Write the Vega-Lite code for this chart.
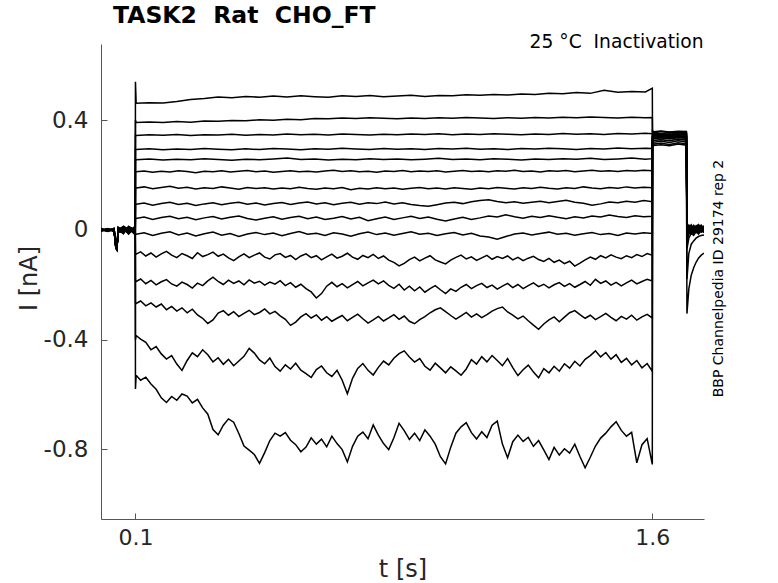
{
"$schema":"https://vega.github.io/schema/vega-lite/v6.json",
"width":603,"height":475,
"autosize":"none",
"padding":{"left":101,"top":44,"right":74,"bottom":64},
"background":"white",
"title":{"text":"TASK2\u00a0 Rat\u00a0 CHO_FT","anchor":"start","frame":"group","dx":12,"dy":31,"offset":17,"baseline":"alphabetic","font":"DejaVu Sans","fontSize":23.5,"fontWeight":"bold","color":"black"},
"config":{"view":{"stroke":null},"axis":{"grid":false,"labelFont":"DejaVu Sans","titleFont":"DejaVu Sans","labelColor":"#262626","titleColor":"#262626","titleFontWeight":"normal","domainColor":"#555555","tickColor":"#555555","domainWidth":1,"tickWidth":1}},
"layer":[
{"data":{"values":[
{"sweep":1,"t":0,"I":0.004},{"sweep":1,"t":0.02,"I":-0.003},{"sweep":1,"t":0.038,"I":0.006},{"sweep":1,"t":0.043,"I":-0.062},{"sweep":1,"t":0.046,"I":-0.07},{"sweep":1,"t":0.05,"I":0.002},{"sweep":1,"t":0.065,"I":0.012},{"sweep":1,"t":0.08,"I":-0.008},{"sweep":1,"t":0.0995,"I":0.01},
{"sweep":1,"t":0.1,"I":0.54},{"sweep":1,"t":0.102,"I":0.462},{"sweep":1,"t":0.14,"I":0.464},{"sweep":1,"t":0.18,"I":0.463},{"sweep":1,"t":0.22,"I":0.468},{"sweep":1,"t":0.26,"I":0.476},{"sweep":1,"t":0.3,"I":0.479},{"sweep":1,"t":0.34,"I":0.485},{"sweep":1,"t":0.38,"I":0.482},{"sweep":1,"t":0.42,"I":0.487},{"sweep":1,"t":0.46,"I":0.484},{"sweep":1,"t":0.5,"I":0.488},{"sweep":1,"t":0.54,"I":0.485},{"sweep":1,"t":0.58,"I":0.489},{"sweep":1,"t":0.62,"I":0.486},{"sweep":1,"t":0.66,"I":0.484},{"sweep":1,"t":0.7,"I":0.489},{"sweep":1,"t":0.74,"I":0.487},{"sweep":1,"t":0.78,"I":0.49},{"sweep":1,"t":0.82,"I":0.486},{"sweep":1,"t":0.86,"I":0.488},{"sweep":1,"t":0.9,"I":0.491},{"sweep":1,"t":0.94,"I":0.487},{"sweep":1,"t":0.98,"I":0.49},{"sweep":1,"t":1.02,"I":0.489},{"sweep":1,"t":1.06,"I":0.493},{"sweep":1,"t":1.1,"I":0.491},{"sweep":1,"t":1.14,"I":0.494},{"sweep":1,"t":1.18,"I":0.492},{"sweep":1,"t":1.22,"I":0.496},{"sweep":1,"t":1.26,"I":0.494},{"sweep":1,"t":1.3,"I":0.498},{"sweep":1,"t":1.34,"I":0.497},{"sweep":1,"t":1.38,"I":0.501},{"sweep":1,"t":1.42,"I":0.498},{"sweep":1,"t":1.46,"I":0.509},{"sweep":1,"t":1.5,"I":0.502},{"sweep":1,"t":1.54,"I":0.505},{"sweep":1,"t":1.58,"I":0.503},{"sweep":1,"t":1.6,"I":0.517},
{"sweep":1,"t":1.6005,"I":0.358},{"sweep":1,"t":1.604,"I":0.354},{"sweep":1,"t":1.625,"I":0.359},{"sweep":1,"t":1.65,"I":0.355},{"sweep":1,"t":1.675,"I":0.357},{"sweep":1,"t":1.699,"I":0.353},
{"sweep":1,"t":1.7005,"I":0.01},{"sweep":1,"t":1.706,"I":0.018},{"sweep":1,"t":1.713,"I":0.004},{"sweep":1,"t":1.72,"I":0.014},{"sweep":1,"t":1.727,"I":0.002},{"sweep":1,"t":1.734,"I":0.016},{"sweep":1,"t":1.742,"I":0.006},{"sweep":1,"t":1.75,"I":0.012},

{"sweep":2,"t":0,"I":-0.002},{"sweep":2,"t":0.02,"I":0.005},{"sweep":2,"t":0.038,"I":-0.004},{"sweep":2,"t":0.043,"I":-0.058},{"sweep":2,"t":0.046,"I":-0.066},{"sweep":2,"t":0.05,"I":-0.006},{"sweep":2,"t":0.065,"I":-0.011},{"sweep":2,"t":0.08,"I":0.009},{"sweep":2,"t":0.0995,"I":-0.014},
{"sweep":2,"t":0.1,"I":0.4},{"sweep":2,"t":0.102,"I":0.392},{"sweep":2,"t":0.14,"I":0.394},{"sweep":2,"t":0.18,"I":0.392},{"sweep":2,"t":0.22,"I":0.395},{"sweep":2,"t":0.26,"I":0.393},{"sweep":2,"t":0.3,"I":0.397},{"sweep":2,"t":0.34,"I":0.396},{"sweep":2,"t":0.38,"I":0.399},{"sweep":2,"t":0.42,"I":0.398},{"sweep":2,"t":0.46,"I":0.402},{"sweep":2,"t":0.5,"I":0.4},{"sweep":2,"t":0.54,"I":0.404},{"sweep":2,"t":0.58,"I":0.402},{"sweep":2,"t":0.62,"I":0.406},{"sweep":2,"t":0.66,"I":0.405},{"sweep":2,"t":0.7,"I":0.408},{"sweep":2,"t":0.74,"I":0.406},{"sweep":2,"t":0.78,"I":0.409},{"sweep":2,"t":0.82,"I":0.407},{"sweep":2,"t":0.86,"I":0.405},{"sweep":2,"t":0.9,"I":0.408},{"sweep":2,"t":0.94,"I":0.406},{"sweep":2,"t":0.98,"I":0.409},{"sweep":2,"t":1.02,"I":0.407},{"sweep":2,"t":1.06,"I":0.41},{"sweep":2,"t":1.1,"I":0.408},{"sweep":2,"t":1.14,"I":0.406},{"sweep":2,"t":1.18,"I":0.409},{"sweep":2,"t":1.22,"I":0.407},{"sweep":2,"t":1.26,"I":0.41},{"sweep":2,"t":1.3,"I":0.408},{"sweep":2,"t":1.34,"I":0.411},{"sweep":2,"t":1.38,"I":0.409},{"sweep":2,"t":1.42,"I":0.412},{"sweep":2,"t":1.46,"I":0.41},{"sweep":2,"t":1.5,"I":0.408},{"sweep":2,"t":1.54,"I":0.411},{"sweep":2,"t":1.58,"I":0.409},{"sweep":2,"t":1.6,"I":0.41},
{"sweep":2,"t":1.6005,"I":0.353},{"sweep":2,"t":1.604,"I":0.349},{"sweep":2,"t":1.625,"I":0.352},{"sweep":2,"t":1.65,"I":0.348},{"sweep":2,"t":1.675,"I":0.354},{"sweep":2,"t":1.699,"I":0.35},
{"sweep":2,"t":1.7005,"I":0.006},{"sweep":2,"t":1.706,"I":-0.004},{"sweep":2,"t":1.713,"I":0.012},{"sweep":2,"t":1.72,"I":0},{"sweep":2,"t":1.727,"I":0.015},{"sweep":2,"t":1.734,"I":0.003},{"sweep":2,"t":1.742,"I":0.011},{"sweep":2,"t":1.75,"I":-0.002},

{"sweep":3,"t":0,"I":0.001},{"sweep":3,"t":0.02,"I":-0.005},{"sweep":3,"t":0.038,"I":0.003},{"sweep":3,"t":0.043,"I":-0.065},{"sweep":3,"t":0.046,"I":-0.072},{"sweep":3,"t":0.05,"I":0.008},{"sweep":3,"t":0.065,"I":0.004},{"sweep":3,"t":0.08,"I":-0.013},{"sweep":3,"t":0.0995,"I":0.006},
{"sweep":3,"t":0.1,"I":0.345},{"sweep":3,"t":0.102,"I":0.344},{"sweep":3,"t":0.14,"I":0.347},{"sweep":3,"t":0.18,"I":0.345},{"sweep":3,"t":0.22,"I":0.348},{"sweep":3,"t":0.26,"I":0.344},{"sweep":3,"t":0.3,"I":0.347},{"sweep":3,"t":0.34,"I":0.346},{"sweep":3,"t":0.38,"I":0.349},{"sweep":3,"t":0.42,"I":0.345},{"sweep":3,"t":0.46,"I":0.348},{"sweep":3,"t":0.5,"I":0.346},{"sweep":3,"t":0.54,"I":0.35},{"sweep":3,"t":0.58,"I":0.347},{"sweep":3,"t":0.62,"I":0.349},{"sweep":3,"t":0.66,"I":0.346},{"sweep":3,"t":0.7,"I":0.35},{"sweep":3,"t":0.74,"I":0.348},{"sweep":3,"t":0.78,"I":0.346},{"sweep":3,"t":0.82,"I":0.349},{"sweep":3,"t":0.86,"I":0.347},{"sweep":3,"t":0.9,"I":0.35},{"sweep":3,"t":0.94,"I":0.348},{"sweep":3,"t":0.98,"I":0.351},{"sweep":3,"t":1.02,"I":0.347},{"sweep":3,"t":1.06,"I":0.35},{"sweep":3,"t":1.1,"I":0.348},{"sweep":3,"t":1.14,"I":0.351},{"sweep":3,"t":1.18,"I":0.349},{"sweep":3,"t":1.22,"I":0.347},{"sweep":3,"t":1.26,"I":0.35},{"sweep":3,"t":1.3,"I":0.348},{"sweep":3,"t":1.34,"I":0.352},{"sweep":3,"t":1.38,"I":0.349},{"sweep":3,"t":1.42,"I":0.351},{"sweep":3,"t":1.46,"I":0.348},{"sweep":3,"t":1.5,"I":0.352},{"sweep":3,"t":1.54,"I":0.35},{"sweep":3,"t":1.58,"I":0.353},{"sweep":3,"t":1.6,"I":0.351},
{"sweep":3,"t":1.6005,"I":0.362},{"sweep":3,"t":1.604,"I":0.358},{"sweep":3,"t":1.625,"I":0.361},{"sweep":3,"t":1.65,"I":0.357},{"sweep":3,"t":1.675,"I":0.36},{"sweep":3,"t":1.699,"I":0.359},
{"sweep":3,"t":1.7005,"I":0.014},{"sweep":3,"t":1.706,"I":0.008},{"sweep":3,"t":1.713,"I":0.019},{"sweep":3,"t":1.72,"I":0.005},{"sweep":3,"t":1.727,"I":0.013},{"sweep":3,"t":1.734,"I":0.02},{"sweep":3,"t":1.742,"I":0.007},{"sweep":3,"t":1.75,"I":0.015},

{"sweep":4,"t":0,"I":-0.004},{"sweep":4,"t":0.02,"I":0.002},{"sweep":4,"t":0.038,"I":-0.006},{"sweep":4,"t":0.043,"I":-0.06},{"sweep":4,"t":0.046,"I":-0.068},{"sweep":4,"t":0.05,"I":-0.003},{"sweep":4,"t":0.065,"I":0.014},{"sweep":4,"t":0.08,"I":0.002},{"sweep":4,"t":0.0995,"I":-0.009},
{"sweep":4,"t":0.1,"I":0.294},{"sweep":4,"t":0.102,"I":0.293},{"sweep":4,"t":0.14,"I":0.296},{"sweep":4,"t":0.18,"I":0.292},{"sweep":4,"t":0.22,"I":0.295},{"sweep":4,"t":0.26,"I":0.293},{"sweep":4,"t":0.3,"I":0.297},{"sweep":4,"t":0.34,"I":0.294},{"sweep":4,"t":0.38,"I":0.292},{"sweep":4,"t":0.42,"I":0.296},{"sweep":4,"t":0.46,"I":0.293},{"sweep":4,"t":0.5,"I":0.297},{"sweep":4,"t":0.54,"I":0.295},{"sweep":4,"t":0.58,"I":0.292},{"sweep":4,"t":0.62,"I":0.296},{"sweep":4,"t":0.66,"I":0.294},{"sweep":4,"t":0.7,"I":0.298},{"sweep":4,"t":0.74,"I":0.295},{"sweep":4,"t":0.78,"I":0.293},{"sweep":4,"t":0.82,"I":0.297},{"sweep":4,"t":0.86,"I":0.294},{"sweep":4,"t":0.9,"I":0.296},{"sweep":4,"t":0.94,"I":0.293},{"sweep":4,"t":0.98,"I":0.297},{"sweep":4,"t":1.02,"I":0.295},{"sweep":4,"t":1.06,"I":0.298},{"sweep":4,"t":1.1,"I":0.294},{"sweep":4,"t":1.14,"I":0.296},{"sweep":4,"t":1.18,"I":0.293},{"sweep":4,"t":1.22,"I":0.297},{"sweep":4,"t":1.26,"I":0.295},{"sweep":4,"t":1.3,"I":0.298},{"sweep":4,"t":1.34,"I":0.296},{"sweep":4,"t":1.38,"I":0.293},{"sweep":4,"t":1.42,"I":0.297},{"sweep":4,"t":1.46,"I":0.295},{"sweep":4,"t":1.5,"I":0.299},{"sweep":4,"t":1.54,"I":0.296},{"sweep":4,"t":1.58,"I":0.298},{"sweep":4,"t":1.6,"I":0.297},
{"sweep":4,"t":1.6005,"I":0.347},{"sweep":4,"t":1.604,"I":0.343},{"sweep":4,"t":1.625,"I":0.346},{"sweep":4,"t":1.65,"I":0.342},{"sweep":4,"t":1.675,"I":0.348},{"sweep":4,"t":1.699,"I":0.344},
{"sweep":4,"t":1.7005,"I":0},{"sweep":4,"t":1.706,"I":0.01},{"sweep":4,"t":1.713,"I":-0.005},{"sweep":4,"t":1.72,"I":0.008},{"sweep":4,"t":1.727,"I":-0.002},{"sweep":4,"t":1.734,"I":0.012},{"sweep":4,"t":1.742,"I":0.001},{"sweep":4,"t":1.75,"I":0.009},

{"sweep":5,"t":0,"I":0.003},{"sweep":5,"t":0.02,"I":-0.001},{"sweep":5,"t":0.038,"I":0.005},{"sweep":5,"t":0.043,"I":-0.063},{"sweep":5,"t":0.046,"I":-0.071},{"sweep":5,"t":0.05,"I":0.005},{"sweep":5,"t":0.065,"I":-0.009},{"sweep":5,"t":0.08,"I":0.011},{"sweep":5,"t":0.0995,"I":0.003},
{"sweep":5,"t":0.1,"I":0.257},{"sweep":5,"t":0.102,"I":0.256},{"sweep":5,"t":0.14,"I":0.259},{"sweep":5,"t":0.18,"I":0.255},{"sweep":5,"t":0.22,"I":0.258},{"sweep":5,"t":0.26,"I":0.256},{"sweep":5,"t":0.3,"I":0.26},{"sweep":5,"t":0.34,"I":0.257},{"sweep":5,"t":0.38,"I":0.254},{"sweep":5,"t":0.42,"I":0.258},{"sweep":5,"t":0.46,"I":0.256},{"sweep":5,"t":0.5,"I":0.259},{"sweep":5,"t":0.54,"I":0.262},{"sweep":5,"t":0.58,"I":0.257},{"sweep":5,"t":0.62,"I":0.259},{"sweep":5,"t":0.66,"I":0.255},{"sweep":5,"t":0.7,"I":0.258},{"sweep":5,"t":0.74,"I":0.256},{"sweep":5,"t":0.78,"I":0.26},{"sweep":5,"t":0.82,"I":0.257},{"sweep":5,"t":0.86,"I":0.259},{"sweep":5,"t":0.9,"I":0.256},{"sweep":5,"t":0.94,"I":0.258},{"sweep":5,"t":0.98,"I":0.261},{"sweep":5,"t":1.02,"I":0.257},{"sweep":5,"t":1.06,"I":0.259},{"sweep":5,"t":1.1,"I":0.256},{"sweep":5,"t":1.14,"I":0.26},{"sweep":5,"t":1.18,"I":0.258},{"sweep":5,"t":1.22,"I":0.255},{"sweep":5,"t":1.26,"I":0.259},{"sweep":5,"t":1.3,"I":0.257},{"sweep":5,"t":1.34,"I":0.26},{"sweep":5,"t":1.38,"I":0.258},{"sweep":5,"t":1.42,"I":0.261},{"sweep":5,"t":1.46,"I":0.257},{"sweep":5,"t":1.5,"I":0.259},{"sweep":5,"t":1.54,"I":0.262},{"sweep":5,"t":1.58,"I":0.258},{"sweep":5,"t":1.6,"I":0.26},
{"sweep":5,"t":1.6005,"I":0.35},{"sweep":5,"t":1.604,"I":0.355},{"sweep":5,"t":1.625,"I":0.351},{"sweep":5,"t":1.65,"I":0.356},{"sweep":5,"t":1.675,"I":0.352},{"sweep":5,"t":1.699,"I":0.354},
{"sweep":5,"t":1.7005,"I":0.008},{"sweep":5,"t":1.706,"I":0.015},{"sweep":5,"t":1.713,"I":0.002},{"sweep":5,"t":1.72,"I":0.017},{"sweep":5,"t":1.727,"I":0.006},{"sweep":5,"t":1.734,"I":0.01},{"sweep":5,"t":1.742,"I":0.018},{"sweep":5,"t":1.75,"I":0.004},

{"sweep":6,"t":0,"I":-0.001},{"sweep":6,"t":0.02,"I":0.004},{"sweep":6,"t":0.038,"I":-0.002},{"sweep":6,"t":0.043,"I":-0.059},{"sweep":6,"t":0.046,"I":-0.067},{"sweep":6,"t":0.05,"I":-0.008},{"sweep":6,"t":0.065,"I":0.007},{"sweep":6,"t":0.08,"I":-0.015},{"sweep":6,"t":0.0995,"I":0.013},
{"sweep":6,"t":0.1,"I":0.213},{"sweep":6,"t":0.102,"I":0.212},{"sweep":6,"t":0.125,"I":0.215},{"sweep":6,"t":0.15,"I":0.21},{"sweep":6,"t":0.175,"I":0.214},{"sweep":6,"t":0.2,"I":0.211},{"sweep":6,"t":0.225,"I":0.216},{"sweep":6,"t":0.25,"I":0.213},{"sweep":6,"t":0.275,"I":0.209},{"sweep":6,"t":0.3,"I":0.214},{"sweep":6,"t":0.325,"I":0.212},{"sweep":6,"t":0.35,"I":0.216},{"sweep":6,"t":0.375,"I":0.211},{"sweep":6,"t":0.4,"I":0.214},{"sweep":6,"t":0.425,"I":0.217},{"sweep":6,"t":0.45,"I":0.212},{"sweep":6,"t":0.475,"I":0.215},{"sweep":6,"t":0.5,"I":0.21},{"sweep":6,"t":0.525,"I":0.213},{"sweep":6,"t":0.55,"I":0.216},{"sweep":6,"t":0.575,"I":0.212},{"sweep":6,"t":0.6,"I":0.214},{"sweep":6,"t":0.625,"I":0.211},{"sweep":6,"t":0.65,"I":0.215},{"sweep":6,"t":0.675,"I":0.218},{"sweep":6,"t":0.7,"I":0.213},{"sweep":6,"t":0.725,"I":0.216},{"sweep":6,"t":0.75,"I":0.212},{"sweep":6,"t":0.775,"I":0.214},{"sweep":6,"t":0.8,"I":0.21},{"sweep":6,"t":0.825,"I":0.215},{"sweep":6,"t":0.85,"I":0.213},{"sweep":6,"t":0.875,"I":0.217},{"sweep":6,"t":0.9,"I":0.212},{"sweep":6,"t":0.925,"I":0.215},{"sweep":6,"t":0.95,"I":0.213},{"sweep":6,"t":0.975,"I":0.216},{"sweep":6,"t":1.0,"I":0.211},{"sweep":6,"t":1.025,"I":0.214},{"sweep":6,"t":1.05,"I":0.217},{"sweep":6,"t":1.075,"I":0.213},{"sweep":6,"t":1.1,"I":0.215},{"sweep":6,"t":1.125,"I":0.212},{"sweep":6,"t":1.15,"I":0.216},{"sweep":6,"t":1.175,"I":0.214},{"sweep":6,"t":1.2,"I":0.218},{"sweep":6,"t":1.225,"I":0.213},{"sweep":6,"t":1.25,"I":0.215},{"sweep":6,"t":1.275,"I":0.211},{"sweep":6,"t":1.3,"I":0.216},{"sweep":6,"t":1.325,"I":0.214},{"sweep":6,"t":1.35,"I":0.217},{"sweep":6,"t":1.375,"I":0.212},{"sweep":6,"t":1.4,"I":0.215},{"sweep":6,"t":1.425,"I":0.218},{"sweep":6,"t":1.45,"I":0.214},{"sweep":6,"t":1.475,"I":0.216},{"sweep":6,"t":1.5,"I":0.213},{"sweep":6,"t":1.525,"I":0.217},{"sweep":6,"t":1.55,"I":0.215},{"sweep":6,"t":1.575,"I":0.218},{"sweep":6,"t":1.6,"I":0.216},
{"sweep":6,"t":1.6005,"I":0.342},{"sweep":6,"t":1.604,"I":0.338},{"sweep":6,"t":1.625,"I":0.341},{"sweep":6,"t":1.65,"I":0.337},{"sweep":6,"t":1.675,"I":0.343},{"sweep":6,"t":1.699,"I":0.339},
{"sweep":6,"t":1.7005,"I":-0.006},{"sweep":6,"t":1.706,"I":0.004},{"sweep":6,"t":1.713,"I":-0.01},{"sweep":6,"t":1.72,"I":0.006},{"sweep":6,"t":1.727,"I":-0.004},{"sweep":6,"t":1.734,"I":0.008},{"sweep":6,"t":1.742,"I":-0.008},{"sweep":6,"t":1.75,"I":0.003},

{"sweep":7,"t":0,"I":0.002},{"sweep":7,"t":0.02,"I":-0.004},{"sweep":7,"t":0.038,"I":0.001},{"sweep":7,"t":0.043,"I":-0.064},{"sweep":7,"t":0.046,"I":-0.073},{"sweep":7,"t":0.05,"I":0.01},{"sweep":7,"t":0.065,"I":-0.004},{"sweep":7,"t":0.08,"I":0.006},{"sweep":7,"t":0.0995,"I":-0.018},
{"sweep":7,"t":0.1,"I":0.154},{"sweep":7,"t":0.102,"I":0.153},{"sweep":7,"t":0.125,"I":0.157},{"sweep":7,"t":0.15,"I":0.15},{"sweep":7,"t":0.175,"I":0.155},{"sweep":7,"t":0.2,"I":0.159},{"sweep":7,"t":0.225,"I":0.152},{"sweep":7,"t":0.25,"I":0.156},{"sweep":7,"t":0.275,"I":0.149},{"sweep":7,"t":0.3,"I":0.154},{"sweep":7,"t":0.325,"I":0.151},{"sweep":7,"t":0.35,"I":0.157},{"sweep":7,"t":0.375,"I":0.153},{"sweep":7,"t":0.4,"I":0.148},{"sweep":7,"t":0.425,"I":0.155},{"sweep":7,"t":0.45,"I":0.151},{"sweep":7,"t":0.475,"I":0.154},{"sweep":7,"t":0.5,"I":0.149},{"sweep":7,"t":0.525,"I":0.153},{"sweep":7,"t":0.55,"I":0.15},{"sweep":7,"t":0.575,"I":0.156},{"sweep":7,"t":0.6,"I":0.151},{"sweep":7,"t":0.625,"I":0.148},{"sweep":7,"t":0.65,"I":0.153},{"sweep":7,"t":0.675,"I":0.15},{"sweep":7,"t":0.7,"I":0.155},{"sweep":7,"t":0.725,"I":0.147},{"sweep":7,"t":0.75,"I":0.152},{"sweep":7,"t":0.775,"I":0.149},{"sweep":7,"t":0.8,"I":0.154},{"sweep":7,"t":0.825,"I":0.15},{"sweep":7,"t":0.85,"I":0.153},{"sweep":7,"t":0.875,"I":0.148},{"sweep":7,"t":0.9,"I":0.152},{"sweep":7,"t":0.925,"I":0.155},{"sweep":7,"t":0.95,"I":0.15},{"sweep":7,"t":0.975,"I":0.153},{"sweep":7,"t":1.0,"I":0.149},{"sweep":7,"t":1.025,"I":0.154},{"sweep":7,"t":1.05,"I":0.151},{"sweep":7,"t":1.075,"I":0.148},{"sweep":7,"t":1.1,"I":0.153},{"sweep":7,"t":1.125,"I":0.15},{"sweep":7,"t":1.15,"I":0.155},{"sweep":7,"t":1.175,"I":0.152},{"sweep":7,"t":1.2,"I":0.149},{"sweep":7,"t":1.225,"I":0.154},{"sweep":7,"t":1.25,"I":0.151},{"sweep":7,"t":1.275,"I":0.156},{"sweep":7,"t":1.3,"I":0.152},{"sweep":7,"t":1.325,"I":0.149},{"sweep":7,"t":1.35,"I":0.154},{"sweep":7,"t":1.375,"I":0.151},{"sweep":7,"t":1.4,"I":0.157},{"sweep":7,"t":1.425,"I":0.153},{"sweep":7,"t":1.45,"I":0.15},{"sweep":7,"t":1.475,"I":0.155},{"sweep":7,"t":1.5,"I":0.152},{"sweep":7,"t":1.525,"I":0.157},{"sweep":7,"t":1.55,"I":0.153},{"sweep":7,"t":1.575,"I":0.156},{"sweep":7,"t":1.6,"I":0.154},
{"sweep":7,"t":1.6005,"I":0.346},{"sweep":7,"t":1.604,"I":0.35},{"sweep":7,"t":1.625,"I":0.347},{"sweep":7,"t":1.65,"I":0.351},{"sweep":7,"t":1.675,"I":0.345},{"sweep":7,"t":1.699,"I":0.349},
{"sweep":7,"t":1.7005,"I":0.004},{"sweep":7,"t":1.706,"I":-0.006},{"sweep":7,"t":1.713,"I":0.009},{"sweep":7,"t":1.72,"I":-0.002},{"sweep":7,"t":1.727,"I":0.011},{"sweep":7,"t":1.734,"I":-0.005},{"sweep":7,"t":1.742,"I":0.007},{"sweep":7,"t":1.75,"I":0.001},

{"sweep":8,"t":0,"I":-0.003},{"sweep":8,"t":0.02,"I":0.003},{"sweep":8,"t":0.038,"I":-0.005},{"sweep":8,"t":0.043,"I":-0.061},{"sweep":8,"t":0.046,"I":-0.069},{"sweep":8,"t":0.05,"I":-0.002},{"sweep":8,"t":0.065,"I":0.01},{"sweep":8,"t":0.08,"I":-0.006},{"sweep":8,"t":0.0995,"I":0.008},
{"sweep":8,"t":0.1,"I":0.095},{"sweep":8,"t":0.102,"I":0.094},{"sweep":8,"t":0.125,"I":0.098},{"sweep":8,"t":0.15,"I":0.09},{"sweep":8,"t":0.175,"I":0.096},{"sweep":8,"t":0.2,"I":0.101},{"sweep":8,"t":0.225,"I":0.093},{"sweep":8,"t":0.25,"I":0.097},{"sweep":8,"t":0.275,"I":0.089},{"sweep":8,"t":0.3,"I":0.095},{"sweep":8,"t":0.325,"I":0.099},{"sweep":8,"t":0.35,"I":0.092},{"sweep":8,"t":0.375,"I":0.097},{"sweep":8,"t":0.4,"I":0.101},{"sweep":8,"t":0.425,"I":0.094},{"sweep":8,"t":0.45,"I":0.098},{"sweep":8,"t":0.475,"I":0.091},{"sweep":8,"t":0.5,"I":0.096},{"sweep":8,"t":0.525,"I":0.1},{"sweep":8,"t":0.55,"I":0.093},{"sweep":8,"t":0.575,"I":0.098},{"sweep":8,"t":0.6,"I":0.102},{"sweep":8,"t":0.625,"I":0.095},{"sweep":8,"t":0.65,"I":0.099},{"sweep":8,"t":0.675,"I":0.092},{"sweep":8,"t":0.7,"I":0.097},{"sweep":8,"t":0.725,"I":0.101},{"sweep":8,"t":0.75,"I":0.094},{"sweep":8,"t":0.775,"I":0.099},{"sweep":8,"t":0.8,"I":0.096},{"sweep":8,"t":0.825,"I":0.102},{"sweep":8,"t":0.85,"I":0.095},{"sweep":8,"t":0.875,"I":0.099},{"sweep":8,"t":0.9,"I":0.093},{"sweep":8,"t":0.925,"I":0.089},{"sweep":8,"t":0.95,"I":0.086},{"sweep":8,"t":0.975,"I":0.092},{"sweep":8,"t":1.0,"I":0.098},{"sweep":8,"t":1.025,"I":0.101},{"sweep":8,"t":1.05,"I":0.096},{"sweep":8,"t":1.075,"I":0.103},{"sweep":8,"t":1.1,"I":0.107},{"sweep":8,"t":1.125,"I":0.11},{"sweep":8,"t":1.15,"I":0.104},{"sweep":8,"t":1.175,"I":0.099},{"sweep":8,"t":1.2,"I":0.103},{"sweep":8,"t":1.225,"I":0.097},{"sweep":8,"t":1.25,"I":0.101},{"sweep":8,"t":1.275,"I":0.105},{"sweep":8,"t":1.3,"I":0.099},{"sweep":8,"t":1.325,"I":0.104},{"sweep":8,"t":1.35,"I":0.108},{"sweep":8,"t":1.375,"I":0.101},{"sweep":8,"t":1.4,"I":0.097},{"sweep":8,"t":1.425,"I":0.09},{"sweep":8,"t":1.45,"I":0.095},{"sweep":8,"t":1.475,"I":0.102},{"sweep":8,"t":1.5,"I":0.099},{"sweep":8,"t":1.525,"I":0.105},{"sweep":8,"t":1.55,"I":0.101},{"sweep":8,"t":1.575,"I":0.107},{"sweep":8,"t":1.6,"I":0.103},
{"sweep":8,"t":1.6005,"I":0.337},{"sweep":8,"t":1.604,"I":0.333},{"sweep":8,"t":1.625,"I":0.336},{"sweep":8,"t":1.65,"I":0.332},{"sweep":8,"t":1.675,"I":0.338},{"sweep":8,"t":1.699,"I":0.334},
{"sweep":8,"t":1.7005,"I":-0.012},{"sweep":8,"t":1.706,"I":-0.004},{"sweep":8,"t":1.713,"I":-0.014},{"sweep":8,"t":1.72,"I":-0.001},{"sweep":8,"t":1.727,"I":-0.01},{"sweep":8,"t":1.734,"I":0.002},{"sweep":8,"t":1.742,"I":-0.007},{"sweep":8,"t":1.75,"I":-0.003},

{"sweep":9,"t":0,"I":0.005},{"sweep":9,"t":0.02,"I":-0.002},{"sweep":9,"t":0.038,"I":0.004},{"sweep":9,"t":0.043,"I":-0.057},{"sweep":9,"t":0.046,"I":-0.065},{"sweep":9,"t":0.05,"I":0.006},{"sweep":9,"t":0.065,"I":-0.014},{"sweep":9,"t":0.08,"I":0.013},{"sweep":9,"t":0.0995,"I":-0.004},
{"sweep":9,"t":0.1,"I":0.044},{"sweep":9,"t":0.102,"I":0.042},{"sweep":9,"t":0.125,"I":0.047},{"sweep":9,"t":0.15,"I":0.038},{"sweep":9,"t":0.175,"I":0.045},{"sweep":9,"t":0.2,"I":0.05},{"sweep":9,"t":0.225,"I":0.041},{"sweep":9,"t":0.25,"I":0.046},{"sweep":9,"t":0.275,"I":0.037},{"sweep":9,"t":0.3,"I":0.044},{"sweep":9,"t":0.325,"I":0.049},{"sweep":9,"t":0.35,"I":0.04},{"sweep":9,"t":0.375,"I":0.046},{"sweep":9,"t":0.4,"I":0.051},{"sweep":9,"t":0.425,"I":0.042},{"sweep":9,"t":0.45,"I":0.036},{"sweep":9,"t":0.475,"I":0.043},{"sweep":9,"t":0.5,"I":0.048},{"sweep":9,"t":0.525,"I":0.039},{"sweep":9,"t":0.55,"I":0.045},{"sweep":9,"t":0.575,"I":0.05},{"sweep":9,"t":0.6,"I":0.041},{"sweep":9,"t":0.625,"I":0.047},{"sweep":9,"t":0.65,"I":0.038},{"sweep":9,"t":0.675,"I":0.043},{"sweep":9,"t":0.7,"I":0.049},{"sweep":9,"t":0.725,"I":0.04},{"sweep":9,"t":0.75,"I":0.046},{"sweep":9,"t":0.775,"I":0.034},{"sweep":9,"t":0.8,"I":0.041},{"sweep":9,"t":0.825,"I":0.047},{"sweep":9,"t":0.85,"I":0.038},{"sweep":9,"t":0.875,"I":0.044},{"sweep":9,"t":0.9,"I":0.05},{"sweep":9,"t":0.925,"I":0.042},{"sweep":9,"t":0.95,"I":0.047},{"sweep":9,"t":0.975,"I":0.039},{"sweep":9,"t":1.0,"I":0.033},{"sweep":9,"t":1.025,"I":0.04},{"sweep":9,"t":1.05,"I":0.046},{"sweep":9,"t":1.075,"I":0.038},{"sweep":9,"t":1.1,"I":0.044},{"sweep":9,"t":1.125,"I":0.051},{"sweep":9,"t":1.15,"I":0.047},{"sweep":9,"t":1.175,"I":0.055},{"sweep":9,"t":1.2,"I":0.048},{"sweep":9,"t":1.225,"I":0.043},{"sweep":9,"t":1.25,"I":0.05},{"sweep":9,"t":1.275,"I":0.045},{"sweep":9,"t":1.3,"I":0.052},{"sweep":9,"t":1.325,"I":0.046},{"sweep":9,"t":1.35,"I":0.041},{"sweep":9,"t":1.375,"I":0.048},{"sweep":9,"t":1.4,"I":0.044},{"sweep":9,"t":1.425,"I":0.051},{"sweep":9,"t":1.45,"I":0.047},{"sweep":9,"t":1.475,"I":0.054},{"sweep":9,"t":1.5,"I":0.049},{"sweep":9,"t":1.525,"I":0.045},{"sweep":9,"t":1.55,"I":0.052},{"sweep":9,"t":1.575,"I":0.048},{"sweep":9,"t":1.6,"I":0.05},
{"sweep":9,"t":1.6005,"I":0.341},{"sweep":9,"t":1.604,"I":0.345},{"sweep":9,"t":1.625,"I":0.342},{"sweep":9,"t":1.65,"I":0.346},{"sweep":9,"t":1.675,"I":0.34},{"sweep":9,"t":1.699,"I":0.344},
{"sweep":9,"t":1.7005,"I":0.002},{"sweep":9,"t":1.706,"I":0.012},{"sweep":9,"t":1.713,"I":-0.003},{"sweep":9,"t":1.72,"I":0.01},{"sweep":9,"t":1.727,"I":0},{"sweep":9,"t":1.734,"I":0.014},{"sweep":9,"t":1.742,"I":-0.004},{"sweep":9,"t":1.75,"I":0.008},

{"sweep":10,"t":0,"I":-0.002},{"sweep":10,"t":0.02,"I":0.001},{"sweep":10,"t":0.038,"I":-0.003},{"sweep":10,"t":0.043,"I":-0.062},{"sweep":10,"t":0.046,"I":-0.07},{"sweep":10,"t":0.05,"I":-0.01},{"sweep":10,"t":0.065,"I":0.003},{"sweep":10,"t":0.08,"I":-0.011},{"sweep":10,"t":0.0995,"I":0.015},
{"sweep":10,"t":0.1,"I":-0.015},{"sweep":10,"t":0.102,"I":-0.016},{"sweep":10,"t":0.125,"I":-0.01},{"sweep":10,"t":0.15,"I":-0.02},{"sweep":10,"t":0.175,"I":-0.012},{"sweep":10,"t":0.2,"I":-0.007},{"sweep":10,"t":0.225,"I":-0.018},{"sweep":10,"t":0.25,"I":-0.011},{"sweep":10,"t":0.275,"I":-0.022},{"sweep":10,"t":0.3,"I":-0.014},{"sweep":10,"t":0.325,"I":-0.008},{"sweep":10,"t":0.35,"I":-0.019},{"sweep":10,"t":0.375,"I":-0.013},{"sweep":10,"t":0.4,"I":-0.024},{"sweep":10,"t":0.425,"I":-0.015},{"sweep":10,"t":0.45,"I":-0.009},{"sweep":10,"t":0.475,"I":-0.017},{"sweep":10,"t":0.5,"I":-0.011},{"sweep":10,"t":0.525,"I":-0.021},{"sweep":10,"t":0.55,"I":-0.013},{"sweep":10,"t":0.575,"I":-0.006},{"sweep":10,"t":0.6,"I":-0.016},{"sweep":10,"t":0.625,"I":-0.012},{"sweep":10,"t":0.65,"I":-0.02},{"sweep":10,"t":0.675,"I":-0.01},{"sweep":10,"t":0.7,"I":-0.015},{"sweep":10,"t":0.725,"I":-0.023},{"sweep":10,"t":0.75,"I":-0.014},{"sweep":10,"t":0.775,"I":-0.008},{"sweep":10,"t":0.8,"I":-0.017},{"sweep":10,"t":0.825,"I":-0.011},{"sweep":10,"t":0.85,"I":-0.019},{"sweep":10,"t":0.875,"I":-0.013},{"sweep":10,"t":0.9,"I":-0.007},{"sweep":10,"t":0.925,"I":-0.016},{"sweep":10,"t":0.95,"I":-0.012},{"sweep":10,"t":0.975,"I":-0.02},{"sweep":10,"t":1.0,"I":-0.014},{"sweep":10,"t":1.025,"I":-0.009},{"sweep":10,"t":1.05,"I":-0.018},{"sweep":10,"t":1.075,"I":-0.012},{"sweep":10,"t":1.1,"I":-0.022},{"sweep":10,"t":1.125,"I":-0.026},{"sweep":10,"t":1.15,"I":-0.034},{"sweep":10,"t":1.175,"I":-0.024},{"sweep":10,"t":1.2,"I":-0.015},{"sweep":10,"t":1.225,"I":-0.011},{"sweep":10,"t":1.25,"I":-0.018},{"sweep":10,"t":1.275,"I":-0.013},{"sweep":10,"t":1.3,"I":-0.008},{"sweep":10,"t":1.325,"I":-0.016},{"sweep":10,"t":1.35,"I":-0.012},{"sweep":10,"t":1.375,"I":-0.019},{"sweep":10,"t":1.4,"I":-0.014},{"sweep":10,"t":1.425,"I":-0.009},{"sweep":10,"t":1.45,"I":-0.017},{"sweep":10,"t":1.475,"I":-0.013},{"sweep":10,"t":1.5,"I":-0.02},{"sweep":10,"t":1.525,"I":-0.011},{"sweep":10,"t":1.55,"I":-0.015},{"sweep":10,"t":1.575,"I":-0.01},{"sweep":10,"t":1.6,"I":-0.013},
{"sweep":10,"t":1.6005,"I":0.33},{"sweep":10,"t":1.604,"I":0.326},{"sweep":10,"t":1.625,"I":0.329},{"sweep":10,"t":1.65,"I":0.325},{"sweep":10,"t":1.675,"I":0.331},{"sweep":10,"t":1.699,"I":0.327},
{"sweep":10,"t":1.7005,"I":-0.015},{"sweep":10,"t":1.706,"I":-0.004},{"sweep":10,"t":1.713,"I":0.006},{"sweep":10,"t":1.72,"I":-0.008},{"sweep":10,"t":1.727,"I":0.004},{"sweep":10,"t":1.734,"I":-0.01},{"sweep":10,"t":1.742,"I":0.002},{"sweep":10,"t":1.75,"I":-0.005},

{"sweep":11,"t":0,"I":0.001},{"sweep":11,"t":0.02,"I":-0.006},{"sweep":11,"t":0.038,"I":0.002},{"sweep":11,"t":0.043,"I":-0.066},{"sweep":11,"t":0.046,"I":-0.074},{"sweep":11,"t":0.05,"I":0.003},{"sweep":11,"t":0.065,"I":-0.007},{"sweep":11,"t":0.08,"I":0.004},{"sweep":11,"t":0.0995,"I":-0.012},
{"sweep":11,"t":0.1,"I":-0.085},{"sweep":11,"t":0.102,"I":-0.088},{"sweep":11,"t":0.115,"I":-0.08},{"sweep":11,"t":0.13,"I":-0.095},{"sweep":11,"t":0.145,"I":-0.084},{"sweep":11,"t":0.16,"I":-0.099},{"sweep":11,"t":0.175,"I":-0.087},{"sweep":11,"t":0.19,"I":-0.078},{"sweep":11,"t":0.205,"I":-0.092},{"sweep":11,"t":0.22,"I":-0.101},{"sweep":11,"t":0.235,"I":-0.086},{"sweep":11,"t":0.25,"I":-0.094},{"sweep":11,"t":0.265,"I":-0.104},{"sweep":11,"t":0.28,"I":-0.083},{"sweep":11,"t":0.295,"I":-0.097},{"sweep":11,"t":0.31,"I":-0.09},{"sweep":11,"t":0.325,"I":-0.081},{"sweep":11,"t":0.34,"I":-0.096},{"sweep":11,"t":0.355,"I":-0.088},{"sweep":11,"t":0.37,"I":-0.102},{"sweep":11,"t":0.385,"I":-0.112},{"sweep":11,"t":0.4,"I":-0.098},{"sweep":11,"t":0.415,"I":-0.087},{"sweep":11,"t":0.43,"I":-0.101},{"sweep":11,"t":0.445,"I":-0.092},{"sweep":11,"t":0.46,"I":-0.084},{"sweep":11,"t":0.475,"I":-0.099},{"sweep":11,"t":0.49,"I":-0.106},{"sweep":11,"t":0.505,"I":-0.091},{"sweep":11,"t":0.52,"I":-0.086},{"sweep":11,"t":0.535,"I":-0.1},{"sweep":11,"t":0.55,"I":-0.093},{"sweep":11,"t":0.565,"I":-0.108},{"sweep":11,"t":0.58,"I":-0.095},{"sweep":11,"t":0.595,"I":-0.087},{"sweep":11,"t":0.61,"I":-0.101},{"sweep":11,"t":0.625,"I":-0.094},{"sweep":11,"t":0.64,"I":-0.109},{"sweep":11,"t":0.655,"I":-0.098},{"sweep":11,"t":0.67,"I":-0.088},{"sweep":11,"t":0.685,"I":-0.103},{"sweep":11,"t":0.7,"I":-0.096},{"sweep":11,"t":0.715,"I":-0.085},{"sweep":11,"t":0.73,"I":-0.099},{"sweep":11,"t":0.745,"I":-0.107},{"sweep":11,"t":0.76,"I":-0.093},{"sweep":11,"t":0.775,"I":-0.101},{"sweep":11,"t":0.79,"I":-0.089},{"sweep":11,"t":0.805,"I":-0.104},{"sweep":11,"t":0.82,"I":-0.095},{"sweep":11,"t":0.835,"I":-0.11},{"sweep":11,"t":0.85,"I":-0.118},{"sweep":11,"t":0.865,"I":-0.131},{"sweep":11,"t":0.88,"I":-0.122},{"sweep":11,"t":0.895,"I":-0.108},{"sweep":11,"t":0.91,"I":-0.099},{"sweep":11,"t":0.925,"I":-0.113},{"sweep":11,"t":0.94,"I":-0.103},{"sweep":11,"t":0.955,"I":-0.094},{"sweep":11,"t":0.97,"I":-0.109},{"sweep":11,"t":0.985,"I":-0.117},{"sweep":11,"t":1.0,"I":-0.124},{"sweep":11,"t":1.015,"I":-0.11},{"sweep":11,"t":1.03,"I":-0.1},{"sweep":11,"t":1.045,"I":-0.092},{"sweep":11,"t":1.06,"I":-0.106},{"sweep":11,"t":1.075,"I":-0.098},{"sweep":11,"t":1.09,"I":-0.111},{"sweep":11,"t":1.105,"I":-0.102},{"sweep":11,"t":1.12,"I":-0.093},{"sweep":11,"t":1.135,"I":-0.107},{"sweep":11,"t":1.15,"I":-0.097},{"sweep":11,"t":1.165,"I":-0.104},{"sweep":11,"t":1.18,"I":-0.095},{"sweep":11,"t":1.195,"I":-0.109},{"sweep":11,"t":1.21,"I":-0.1},{"sweep":11,"t":1.225,"I":-0.112},{"sweep":11,"t":1.24,"I":-0.103},{"sweep":11,"t":1.255,"I":-0.096},{"sweep":11,"t":1.27,"I":-0.108},{"sweep":11,"t":1.285,"I":-0.115},{"sweep":11,"t":1.3,"I":-0.104},{"sweep":11,"t":1.315,"I":-0.118},{"sweep":11,"t":1.33,"I":-0.11},{"sweep":11,"t":1.345,"I":-0.123},{"sweep":11,"t":1.36,"I":-0.114},{"sweep":11,"t":1.375,"I":-0.132},{"sweep":11,"t":1.39,"I":-0.121},{"sweep":11,"t":1.405,"I":-0.109},{"sweep":11,"t":1.42,"I":-0.099},{"sweep":11,"t":1.435,"I":-0.107},{"sweep":11,"t":1.45,"I":-0.094},{"sweep":11,"t":1.465,"I":-0.102},{"sweep":11,"t":1.48,"I":-0.091},{"sweep":11,"t":1.495,"I":-0.099},{"sweep":11,"t":1.51,"I":-0.105},{"sweep":11,"t":1.525,"I":-0.094},{"sweep":11,"t":1.54,"I":-0.101},{"sweep":11,"t":1.555,"I":-0.09},{"sweep":11,"t":1.57,"I":-0.097},{"sweep":11,"t":1.585,"I":-0.086},{"sweep":11,"t":1.6,"I":-0.092},
{"sweep":11,"t":1.6005,"I":0.336},{"sweep":11,"t":1.604,"I":0.34},{"sweep":11,"t":1.625,"I":0.337},{"sweep":11,"t":1.65,"I":0.341},{"sweep":11,"t":1.675,"I":0.335},{"sweep":11,"t":1.699,"I":0.339},
{"sweep":11,"t":1.7005,"I":-0.025},{"sweep":11,"t":1.706,"I":-0.01},{"sweep":11,"t":1.713,"I":0.002},{"sweep":11,"t":1.72,"I":-0.012},{"sweep":11,"t":1.727,"I":0.005},{"sweep":11,"t":1.734,"I":-0.007},{"sweep":11,"t":1.742,"I":0.008},{"sweep":11,"t":1.75,"I":-0.003},

{"sweep":12,"t":0,"I":-0.005},{"sweep":12,"t":0.02,"I":0.003},{"sweep":12,"t":0.038,"I":-0.001},{"sweep":12,"t":0.043,"I":-0.06},{"sweep":12,"t":0.046,"I":-0.068},{"sweep":12,"t":0.05,"I":-0.005},{"sweep":12,"t":0.065,"I":0.011},{"sweep":12,"t":0.08,"I":-0.003},{"sweep":12,"t":0.0995,"I":0.005},
{"sweep":12,"t":0.1,"I":-0.185},{"sweep":12,"t":0.102,"I":-0.188},{"sweep":12,"t":0.115,"I":-0.179},{"sweep":12,"t":0.13,"I":-0.196},{"sweep":12,"t":0.145,"I":-0.184},{"sweep":12,"t":0.16,"I":-0.2},{"sweep":12,"t":0.175,"I":-0.189},{"sweep":12,"t":0.19,"I":-0.181},{"sweep":12,"t":0.205,"I":-0.197},{"sweep":12,"t":0.22,"I":-0.205},{"sweep":12,"t":0.235,"I":-0.19},{"sweep":12,"t":0.25,"I":-0.199},{"sweep":12,"t":0.265,"I":-0.212},{"sweep":12,"t":0.28,"I":-0.194},{"sweep":12,"t":0.295,"I":-0.203},{"sweep":12,"t":0.31,"I":-0.186},{"sweep":12,"t":0.325,"I":-0.172},{"sweep":12,"t":0.34,"I":-0.188},{"sweep":12,"t":0.355,"I":-0.199},{"sweep":12,"t":0.37,"I":-0.183},{"sweep":12,"t":0.385,"I":-0.195},{"sweep":12,"t":0.4,"I":-0.186},{"sweep":12,"t":0.415,"I":-0.2},{"sweep":12,"t":0.43,"I":-0.182},{"sweep":12,"t":0.445,"I":-0.194},{"sweep":12,"t":0.46,"I":-0.187},{"sweep":12,"t":0.475,"I":-0.201},{"sweep":12,"t":0.49,"I":-0.19},{"sweep":12,"t":0.505,"I":-0.198},{"sweep":12,"t":0.52,"I":-0.185},{"sweep":12,"t":0.535,"I":-0.203},{"sweep":12,"t":0.55,"I":-0.192},{"sweep":12,"t":0.565,"I":-0.209},{"sweep":12,"t":0.58,"I":-0.198},{"sweep":12,"t":0.595,"I":-0.214},{"sweep":12,"t":0.61,"I":-0.226},{"sweep":12,"t":0.625,"I":-0.248},{"sweep":12,"t":0.64,"I":-0.232},{"sweep":12,"t":0.655,"I":-0.205},{"sweep":12,"t":0.67,"I":-0.191},{"sweep":12,"t":0.685,"I":-0.207},{"sweep":12,"t":0.7,"I":-0.196},{"sweep":12,"t":0.715,"I":-0.211},{"sweep":12,"t":0.73,"I":-0.199},{"sweep":12,"t":0.745,"I":-0.188},{"sweep":12,"t":0.76,"I":-0.204},{"sweep":12,"t":0.775,"I":-0.193},{"sweep":12,"t":0.79,"I":-0.183},{"sweep":12,"t":0.805,"I":-0.197},{"sweep":12,"t":0.82,"I":-0.186},{"sweep":12,"t":0.835,"I":-0.202},{"sweep":12,"t":0.85,"I":-0.213},{"sweep":12,"t":0.865,"I":-0.198},{"sweep":12,"t":0.88,"I":-0.219},{"sweep":12,"t":0.895,"I":-0.205},{"sweep":12,"t":0.91,"I":-0.222},{"sweep":12,"t":0.925,"I":-0.208},{"sweep":12,"t":0.94,"I":-0.227},{"sweep":12,"t":0.955,"I":-0.214},{"sweep":12,"t":0.97,"I":-0.203},{"sweep":12,"t":0.985,"I":-0.218},{"sweep":12,"t":1.0,"I":-0.232},{"sweep":12,"t":1.015,"I":-0.215},{"sweep":12,"t":1.03,"I":-0.224},{"sweep":12,"t":1.045,"I":-0.209},{"sweep":12,"t":1.06,"I":-0.199},{"sweep":12,"t":1.075,"I":-0.214},{"sweep":12,"t":1.09,"I":-0.203},{"sweep":12,"t":1.105,"I":-0.195},{"sweep":12,"t":1.12,"I":-0.21},{"sweep":12,"t":1.135,"I":-0.201},{"sweep":12,"t":1.15,"I":-0.216},{"sweep":12,"t":1.165,"I":-0.205},{"sweep":12,"t":1.18,"I":-0.195},{"sweep":12,"t":1.195,"I":-0.21},{"sweep":12,"t":1.21,"I":-0.199},{"sweep":12,"t":1.225,"I":-0.214},{"sweep":12,"t":1.24,"I":-0.203},{"sweep":12,"t":1.255,"I":-0.193},{"sweep":12,"t":1.27,"I":-0.207},{"sweep":12,"t":1.285,"I":-0.198},{"sweep":12,"t":1.3,"I":-0.211},{"sweep":12,"t":1.315,"I":-0.2},{"sweep":12,"t":1.33,"I":-0.192},{"sweep":12,"t":1.345,"I":-0.206},{"sweep":12,"t":1.36,"I":-0.196},{"sweep":12,"t":1.375,"I":-0.209},{"sweep":12,"t":1.39,"I":-0.199},{"sweep":12,"t":1.405,"I":-0.188},{"sweep":12,"t":1.42,"I":-0.202},{"sweep":12,"t":1.435,"I":-0.18},{"sweep":12,"t":1.45,"I":-0.195},{"sweep":12,"t":1.465,"I":-0.186},{"sweep":12,"t":1.48,"I":-0.201},{"sweep":12,"t":1.495,"I":-0.191},{"sweep":12,"t":1.51,"I":-0.204},{"sweep":12,"t":1.525,"I":-0.193},{"sweep":12,"t":1.54,"I":-0.183},{"sweep":12,"t":1.555,"I":-0.197},{"sweep":12,"t":1.57,"I":-0.188},{"sweep":12,"t":1.585,"I":-0.18},{"sweep":12,"t":1.6,"I":-0.186},
{"sweep":12,"t":1.6005,"I":0.324},{"sweep":12,"t":1.604,"I":0.32},{"sweep":12,"t":1.625,"I":0.323},{"sweep":12,"t":1.65,"I":0.319},{"sweep":12,"t":1.675,"I":0.325},{"sweep":12,"t":1.699,"I":0.321},
{"sweep":12,"t":1.7005,"I":-0.04},{"sweep":12,"t":1.706,"I":-0.016},{"sweep":12,"t":1.713,"I":-0.004},{"sweep":12,"t":1.72,"I":-0.014},{"sweep":12,"t":1.727,"I":0},{"sweep":12,"t":1.734,"I":-0.011},{"sweep":12,"t":1.742,"I":0.003},{"sweep":12,"t":1.75,"I":-0.006},

{"sweep":13,"t":0,"I":0.003},{"sweep":13,"t":0.02,"I":-0.003},{"sweep":13,"t":0.038,"I":0.005},{"sweep":13,"t":0.043,"I":-0.063},{"sweep":13,"t":0.046,"I":-0.071},{"sweep":13,"t":0.05,"I":0.009},{"sweep":13,"t":0.065,"I":-0.012},{"sweep":13,"t":0.08,"I":0.008},{"sweep":13,"t":0.0995,"I":-0.016},
{"sweep":13,"t":0.1,"I":-0.265},{"sweep":13,"t":0.102,"I":-0.268},{"sweep":13,"t":0.115,"I":-0.259},{"sweep":13,"t":0.13,"I":-0.277},{"sweep":13,"t":0.145,"I":-0.266},{"sweep":13,"t":0.16,"I":-0.281},{"sweep":13,"t":0.175,"I":-0.27},{"sweep":13,"t":0.19,"I":-0.291},{"sweep":13,"t":0.205,"I":-0.279},{"sweep":13,"t":0.22,"I":-0.296},{"sweep":13,"t":0.235,"I":-0.284},{"sweep":13,"t":0.25,"I":-0.302},{"sweep":13,"t":0.265,"I":-0.289},{"sweep":13,"t":0.28,"I":-0.31},{"sweep":13,"t":0.295,"I":-0.322},{"sweep":13,"t":0.31,"I":-0.341},{"sweep":13,"t":0.325,"I":-0.328},{"sweep":13,"t":0.34,"I":-0.303},{"sweep":13,"t":0.355,"I":-0.294},{"sweep":13,"t":0.37,"I":-0.311},{"sweep":13,"t":0.385,"I":-0.298},{"sweep":13,"t":0.4,"I":-0.316},{"sweep":13,"t":0.415,"I":-0.304},{"sweep":13,"t":0.43,"I":-0.293},{"sweep":13,"t":0.445,"I":-0.309},{"sweep":13,"t":0.46,"I":-0.301},{"sweep":13,"t":0.475,"I":-0.288},{"sweep":13,"t":0.49,"I":-0.306},{"sweep":13,"t":0.505,"I":-0.297},{"sweep":13,"t":0.52,"I":-0.313},{"sweep":13,"t":0.535,"I":-0.326},{"sweep":13,"t":0.55,"I":-0.348},{"sweep":13,"t":0.565,"I":-0.336},{"sweep":13,"t":0.58,"I":-0.317},{"sweep":13,"t":0.595,"I":-0.305},{"sweep":13,"t":0.61,"I":-0.321},{"sweep":13,"t":0.625,"I":-0.31},{"sweep":13,"t":0.64,"I":-0.329},{"sweep":13,"t":0.655,"I":-0.316},{"sweep":13,"t":0.67,"I":-0.333},{"sweep":13,"t":0.685,"I":-0.322},{"sweep":13,"t":0.7,"I":-0.312},{"sweep":13,"t":0.715,"I":-0.331},{"sweep":13,"t":0.73,"I":-0.319},{"sweep":13,"t":0.745,"I":-0.307},{"sweep":13,"t":0.76,"I":-0.324},{"sweep":13,"t":0.775,"I":-0.34},{"sweep":13,"t":0.79,"I":-0.328},{"sweep":13,"t":0.805,"I":-0.315},{"sweep":13,"t":0.82,"I":-0.332},{"sweep":13,"t":0.835,"I":-0.321},{"sweep":13,"t":0.85,"I":-0.309},{"sweep":13,"t":0.865,"I":-0.326},{"sweep":13,"t":0.88,"I":-0.314},{"sweep":13,"t":0.895,"I":-0.333},{"sweep":13,"t":0.91,"I":-0.342},{"sweep":13,"t":0.925,"I":-0.327},{"sweep":13,"t":0.94,"I":-0.316},{"sweep":13,"t":0.955,"I":-0.302},{"sweep":13,"t":0.97,"I":-0.291},{"sweep":13,"t":0.985,"I":-0.284},{"sweep":13,"t":1.0,"I":-0.298},{"sweep":13,"t":1.015,"I":-0.312},{"sweep":13,"t":1.03,"I":-0.325},{"sweep":13,"t":1.045,"I":-0.313},{"sweep":13,"t":1.06,"I":-0.301},{"sweep":13,"t":1.075,"I":-0.318},{"sweep":13,"t":1.09,"I":-0.306},{"sweep":13,"t":1.105,"I":-0.32},{"sweep":13,"t":1.12,"I":-0.309},{"sweep":13,"t":1.135,"I":-0.296},{"sweep":13,"t":1.15,"I":-0.287},{"sweep":13,"t":1.165,"I":-0.281},{"sweep":13,"t":1.18,"I":-0.299},{"sweep":13,"t":1.195,"I":-0.311},{"sweep":13,"t":1.21,"I":-0.324},{"sweep":13,"t":1.225,"I":-0.314},{"sweep":13,"t":1.24,"I":-0.331},{"sweep":13,"t":1.255,"I":-0.347},{"sweep":13,"t":1.27,"I":-0.362},{"sweep":13,"t":1.285,"I":-0.343},{"sweep":13,"t":1.3,"I":-0.328},{"sweep":13,"t":1.315,"I":-0.317},{"sweep":13,"t":1.33,"I":-0.335},{"sweep":13,"t":1.345,"I":-0.318},{"sweep":13,"t":1.36,"I":-0.302},{"sweep":13,"t":1.375,"I":-0.294},{"sweep":13,"t":1.39,"I":-0.309},{"sweep":13,"t":1.405,"I":-0.322},{"sweep":13,"t":1.42,"I":-0.311},{"sweep":13,"t":1.435,"I":-0.327},{"sweep":13,"t":1.45,"I":-0.316},{"sweep":13,"t":1.465,"I":-0.304},{"sweep":13,"t":1.48,"I":-0.319},{"sweep":13,"t":1.495,"I":-0.331},{"sweep":13,"t":1.51,"I":-0.315},{"sweep":13,"t":1.525,"I":-0.325},{"sweep":13,"t":1.54,"I":-0.311},{"sweep":13,"t":1.555,"I":-0.329},{"sweep":13,"t":1.57,"I":-0.317},{"sweep":13,"t":1.585,"I":-0.308},{"sweep":13,"t":1.6,"I":-0.321},
{"sweep":13,"t":1.6005,"I":0.33},{"sweep":13,"t":1.604,"I":0.334},{"sweep":13,"t":1.625,"I":0.331},{"sweep":13,"t":1.65,"I":0.335},{"sweep":13,"t":1.675,"I":0.329},{"sweep":13,"t":1.699,"I":0.333},
{"sweep":13,"t":1.7005,"I":-0.07},{"sweep":13,"t":1.706,"I":-0.03},{"sweep":13,"t":1.713,"I":-0.012},{"sweep":13,"t":1.72,"I":-0.02},{"sweep":13,"t":1.727,"I":-0.006},{"sweep":13,"t":1.734,"I":-0.015},{"sweep":13,"t":1.742,"I":-0.002},{"sweep":13,"t":1.75,"I":-0.01},

{"sweep":14,"t":0,"I":-0.001},{"sweep":14,"t":0.02,"I":0.004},{"sweep":14,"t":0.038,"I":-0.004},{"sweep":14,"t":0.043,"I":-0.058},{"sweep":14,"t":0.046,"I":-0.066},{"sweep":14,"t":0.05,"I":-0.007},{"sweep":14,"t":0.065,"I":0.005},{"sweep":14,"t":0.08,"I":-0.012},{"sweep":14,"t":0.0995,"I":0.011},
{"sweep":14,"t":0.1,"I":-0.4},{"sweep":14,"t":0.102,"I":-0.385},{"sweep":14,"t":0.115,"I":-0.398},{"sweep":14,"t":0.13,"I":-0.41},{"sweep":14,"t":0.145,"I":-0.437},{"sweep":14,"t":0.16,"I":-0.425},{"sweep":14,"t":0.175,"I":-0.452},{"sweep":14,"t":0.19,"I":-0.471},{"sweep":14,"t":0.205,"I":-0.458},{"sweep":14,"t":0.22,"I":-0.489},{"sweep":14,"t":0.235,"I":-0.512},{"sweep":14,"t":0.25,"I":-0.476},{"sweep":14,"t":0.265,"I":-0.448},{"sweep":14,"t":0.28,"I":-0.462},{"sweep":14,"t":0.295,"I":-0.437},{"sweep":14,"t":0.31,"I":-0.455},{"sweep":14,"t":0.325,"I":-0.481},{"sweep":14,"t":0.34,"I":-0.466},{"sweep":14,"t":0.355,"I":-0.49},{"sweep":14,"t":0.37,"I":-0.472},{"sweep":14,"t":0.385,"I":-0.495},{"sweep":14,"t":0.4,"I":-0.478},{"sweep":14,"t":0.415,"I":-0.461},{"sweep":14,"t":0.43,"I":-0.432},{"sweep":14,"t":0.445,"I":-0.449},{"sweep":14,"t":0.46,"I":-0.474},{"sweep":14,"t":0.475,"I":-0.488},{"sweep":14,"t":0.49,"I":-0.467},{"sweep":14,"t":0.505,"I":-0.498},{"sweep":14,"t":0.52,"I":-0.515},{"sweep":14,"t":0.535,"I":-0.492},{"sweep":14,"t":0.55,"I":-0.507},{"sweep":14,"t":0.565,"I":-0.486},{"sweep":14,"t":0.58,"I":-0.511},{"sweep":14,"t":0.595,"I":-0.524},{"sweep":14,"t":0.61,"I":-0.538},{"sweep":14,"t":0.625,"I":-0.509},{"sweep":14,"t":0.64,"I":-0.496},{"sweep":14,"t":0.655,"I":-0.521},{"sweep":14,"t":0.67,"I":-0.534},{"sweep":14,"t":0.685,"I":-0.512},{"sweep":14,"t":0.7,"I":-0.548},{"sweep":14,"t":0.715,"I":-0.597},{"sweep":14,"t":0.73,"I":-0.541},{"sweep":14,"t":0.745,"I":-0.505},{"sweep":14,"t":0.76,"I":-0.487},{"sweep":14,"t":0.775,"I":-0.512},{"sweep":14,"t":0.79,"I":-0.529},{"sweep":14,"t":0.805,"I":-0.501},{"sweep":14,"t":0.82,"I":-0.478},{"sweep":14,"t":0.835,"I":-0.492},{"sweep":14,"t":0.85,"I":-0.468},{"sweep":14,"t":0.865,"I":-0.451},{"sweep":14,"t":0.88,"I":-0.441},{"sweep":14,"t":0.895,"I":-0.463},{"sweep":14,"t":0.91,"I":-0.482},{"sweep":14,"t":0.925,"I":-0.469},{"sweep":14,"t":0.94,"I":-0.497},{"sweep":14,"t":0.955,"I":-0.511},{"sweep":14,"t":0.97,"I":-0.486},{"sweep":14,"t":0.985,"I":-0.503},{"sweep":14,"t":1.0,"I":-0.521},{"sweep":14,"t":1.015,"I":-0.499},{"sweep":14,"t":1.03,"I":-0.514},{"sweep":14,"t":1.045,"I":-0.53},{"sweep":14,"t":1.06,"I":-0.507},{"sweep":14,"t":1.075,"I":-0.473},{"sweep":14,"t":1.09,"I":-0.489},{"sweep":14,"t":1.105,"I":-0.462},{"sweep":14,"t":1.12,"I":-0.481},{"sweep":14,"t":1.135,"I":-0.458},{"sweep":14,"t":1.15,"I":-0.476},{"sweep":14,"t":1.165,"I":-0.495},{"sweep":14,"t":1.18,"I":-0.469},{"sweep":14,"t":1.195,"I":-0.502},{"sweep":14,"t":1.21,"I":-0.531},{"sweep":14,"t":1.225,"I":-0.51},{"sweep":14,"t":1.24,"I":-0.493},{"sweep":14,"t":1.255,"I":-0.518},{"sweep":14,"t":1.27,"I":-0.539},{"sweep":14,"t":1.285,"I":-0.506},{"sweep":14,"t":1.3,"I":-0.521},{"sweep":14,"t":1.315,"I":-0.497},{"sweep":14,"t":1.33,"I":-0.515},{"sweep":14,"t":1.345,"I":-0.488},{"sweep":14,"t":1.36,"I":-0.504},{"sweep":14,"t":1.375,"I":-0.479},{"sweep":14,"t":1.39,"I":-0.496},{"sweep":14,"t":1.405,"I":-0.472},{"sweep":14,"t":1.42,"I":-0.458},{"sweep":14,"t":1.435,"I":-0.441},{"sweep":14,"t":1.45,"I":-0.463},{"sweep":14,"t":1.465,"I":-0.447},{"sweep":14,"t":1.48,"I":-0.471},{"sweep":14,"t":1.495,"I":-0.455},{"sweep":14,"t":1.51,"I":-0.483},{"sweep":14,"t":1.525,"I":-0.468},{"sweep":14,"t":1.54,"I":-0.492},{"sweep":14,"t":1.555,"I":-0.476},{"sweep":14,"t":1.57,"I":-0.503},{"sweep":14,"t":1.585,"I":-0.487},{"sweep":14,"t":1.6,"I":-0.515},
{"sweep":14,"t":1.6005,"I":0.317},{"sweep":14,"t":1.604,"I":0.313},{"sweep":14,"t":1.625,"I":0.316},{"sweep":14,"t":1.65,"I":0.312},{"sweep":14,"t":1.675,"I":0.318},{"sweep":14,"t":1.699,"I":0.314},
{"sweep":14,"t":1.7005,"I":-0.18},{"sweep":14,"t":1.706,"I":-0.085},{"sweep":14,"t":1.713,"I":-0.052},{"sweep":14,"t":1.72,"I":-0.04},{"sweep":14,"t":1.727,"I":-0.03},{"sweep":14,"t":1.734,"I":-0.024},{"sweep":14,"t":1.742,"I":-0.02},{"sweep":14,"t":1.75,"I":-0.018},

{"sweep":15,"t":0,"I":0.002},{"sweep":15,"t":0.02,"I":-0.002},{"sweep":15,"t":0.038,"I":0.003},{"sweep":15,"t":0.043,"I":-0.064},{"sweep":15,"t":0.046,"I":-0.072},{"sweep":15,"t":0.05,"I":0.004},{"sweep":15,"t":0.065,"I":-0.003},{"sweep":15,"t":0.08,"I":0.01},{"sweep":15,"t":0.0995,"I":-0.007},
{"sweep":15,"t":0.1,"I":-0.58},{"sweep":15,"t":0.102,"I":-0.53},{"sweep":15,"t":0.115,"I":-0.548},{"sweep":15,"t":0.13,"I":-0.537},{"sweep":15,"t":0.145,"I":-0.562},{"sweep":15,"t":0.16,"I":-0.581},{"sweep":15,"t":0.175,"I":-0.612},{"sweep":15,"t":0.19,"I":-0.629},{"sweep":15,"t":0.205,"I":-0.607},{"sweep":15,"t":0.22,"I":-0.621},{"sweep":15,"t":0.235,"I":-0.598},{"sweep":15,"t":0.25,"I":-0.606},{"sweep":15,"t":0.265,"I":-0.631},{"sweep":15,"t":0.28,"I":-0.618},{"sweep":15,"t":0.295,"I":-0.649},{"sweep":15,"t":0.31,"I":-0.672},{"sweep":15,"t":0.325,"I":-0.728},{"sweep":15,"t":0.34,"I":-0.747},{"sweep":15,"t":0.355,"I":-0.712},{"sweep":15,"t":0.37,"I":-0.689},{"sweep":15,"t":0.385,"I":-0.701},{"sweep":15,"t":0.4,"I":-0.742},{"sweep":15,"t":0.415,"I":-0.788},{"sweep":15,"t":0.43,"I":-0.803},{"sweep":15,"t":0.445,"I":-0.819},{"sweep":15,"t":0.46,"I":-0.851},{"sweep":15,"t":0.475,"I":-0.812},{"sweep":15,"t":0.49,"I":-0.768},{"sweep":15,"t":0.505,"I":-0.741},{"sweep":15,"t":0.52,"I":-0.752},{"sweep":15,"t":0.535,"I":-0.739},{"sweep":15,"t":0.55,"I":-0.767},{"sweep":15,"t":0.565,"I":-0.783},{"sweep":15,"t":0.58,"I":-0.809},{"sweep":15,"t":0.595,"I":-0.792},{"sweep":15,"t":0.61,"I":-0.758},{"sweep":15,"t":0.625,"I":-0.781},{"sweep":15,"t":0.64,"I":-0.763},{"sweep":15,"t":0.655,"I":-0.791},{"sweep":15,"t":0.67,"I":-0.752},{"sweep":15,"t":0.685,"I":-0.779},{"sweep":15,"t":0.7,"I":-0.801},{"sweep":15,"t":0.715,"I":-0.846},{"sweep":15,"t":0.73,"I":-0.789},{"sweep":15,"t":0.745,"I":-0.752},{"sweep":15,"t":0.76,"I":-0.737},{"sweep":15,"t":0.775,"I":-0.761},{"sweep":15,"t":0.79,"I":-0.711},{"sweep":15,"t":0.805,"I":-0.748},{"sweep":15,"t":0.82,"I":-0.779},{"sweep":15,"t":0.835,"I":-0.801},{"sweep":15,"t":0.85,"I":-0.758},{"sweep":15,"t":0.865,"I":-0.705},{"sweep":15,"t":0.88,"I":-0.732},{"sweep":15,"t":0.895,"I":-0.764},{"sweep":15,"t":0.91,"I":-0.741},{"sweep":15,"t":0.925,"I":-0.768},{"sweep":15,"t":0.94,"I":-0.729},{"sweep":15,"t":0.955,"I":-0.752},{"sweep":15,"t":0.97,"I":-0.781},{"sweep":15,"t":0.985,"I":-0.827},{"sweep":15,"t":1.0,"I":-0.853},{"sweep":15,"t":1.015,"I":-0.792},{"sweep":15,"t":1.03,"I":-0.741},{"sweep":15,"t":1.045,"I":-0.718},{"sweep":15,"t":1.06,"I":-0.703},{"sweep":15,"t":1.075,"I":-0.739},{"sweep":15,"t":1.09,"I":-0.762},{"sweep":15,"t":1.105,"I":-0.736},{"sweep":15,"t":1.12,"I":-0.757},{"sweep":15,"t":1.135,"I":-0.712},{"sweep":15,"t":1.15,"I":-0.697},{"sweep":15,"t":1.165,"I":-0.781},{"sweep":15,"t":1.18,"I":-0.831},{"sweep":15,"t":1.195,"I":-0.772},{"sweep":15,"t":1.21,"I":-0.748},{"sweep":15,"t":1.225,"I":-0.771},{"sweep":15,"t":1.24,"I":-0.756},{"sweep":15,"t":1.255,"I":-0.789},{"sweep":15,"t":1.27,"I":-0.768},{"sweep":15,"t":1.285,"I":-0.802},{"sweep":15,"t":1.3,"I":-0.837},{"sweep":15,"t":1.315,"I":-0.793},{"sweep":15,"t":1.33,"I":-0.821},{"sweep":15,"t":1.345,"I":-0.798},{"sweep":15,"t":1.36,"I":-0.814},{"sweep":15,"t":1.375,"I":-0.781},{"sweep":15,"t":1.39,"I":-0.826},{"sweep":15,"t":1.405,"I":-0.867},{"sweep":15,"t":1.42,"I":-0.829},{"sweep":15,"t":1.435,"I":-0.788},{"sweep":15,"t":1.45,"I":-0.759},{"sweep":15,"t":1.465,"I":-0.741},{"sweep":15,"t":1.48,"I":-0.718},{"sweep":15,"t":1.495,"I":-0.699},{"sweep":15,"t":1.51,"I":-0.731},{"sweep":15,"t":1.525,"I":-0.752},{"sweep":15,"t":1.54,"I":-0.738},{"sweep":15,"t":1.555,"I":-0.849},{"sweep":15,"t":1.57,"I":-0.783},{"sweep":15,"t":1.585,"I":-0.761},{"sweep":15,"t":1.6,"I":-0.855},
{"sweep":15,"t":1.6005,"I":0.312},{"sweep":15,"t":1.604,"I":0.308},{"sweep":15,"t":1.625,"I":0.311},{"sweep":15,"t":1.65,"I":0.307},{"sweep":15,"t":1.675,"I":0.313},{"sweep":15,"t":1.699,"I":0.309},
{"sweep":15,"t":1.7005,"I":-0.305},{"sweep":15,"t":1.706,"I":-0.215},{"sweep":15,"t":1.713,"I":-0.165},{"sweep":15,"t":1.72,"I":-0.138},{"sweep":15,"t":1.727,"I":-0.118},{"sweep":15,"t":1.734,"I":-0.103},{"sweep":15,"t":1.742,"I":-0.092},{"sweep":15,"t":1.75,"I":-0.084}
]},
"mark":{"type":"line","color":"black","strokeWidth":1.5,"clip":true,"interpolate":"linear"},
"encoding":{
"x":{"field":"t","type":"quantitative","scale":{"domain":[0,1.75],"nice":false,"zero":false},
"axis":{"orient":"bottom","values":[0.1,1.6],"format":".1f","tickSize":-6,"labelPadding":14,"labelFontSize":22,"title":"t [s]","titleFontSize":24,"titleX":301.5,"titleY":57,"titleBaseline":"alphabetic"}},
"y":{"field":"I","type":"quantitative","scale":{"domain":[-1.054,0.678],"nice":false,"zero":false},
"axis":{"orient":"left","values":[-0.8,-0.4,0,0.4],"labelExpr":"datum.value == 0 ? '0' : (datum.value < 0 ? '-' : '') + format(abs(datum.value), '.1f')","tickSize":-6,"labelPadding":19,"labelFontSize":23,"title":"I [nA]","titleFontSize":24,"titleAngle":270,"titleX":-65,"titleY":234,"titleAlign":"center","titleBaseline":"alphabetic"}},
"detail":{"field":"sweep","type":"nominal"}
}},
{"data":{"values":[{"t":0.1,"I":0}]},
"mark":{"type":"point","opacity":0},
"encoding":{
"x":{"field":"t","type":"quantitative","scale":{"domain":[0,1.75],"nice":false,"zero":false},
"axis":{"orient":"top","labels":false,"ticks":false,"domain":false,"title":"25 °C\u00a0 Inactivation","titleFontSize":18.7,"titleColor":"black","titleX":602,"titleY":3.5,"titleAlign":"right","titleBaseline":"alphabetic"}},
"y":{"field":"I","type":"quantitative","scale":{"domain":[-1.054,0.678],"nice":false,"zero":false},
"axis":{"orient":"right","labels":false,"ticks":false,"domain":false,"title":"BBP Channelpedia ID 29174 rep 2","titleFontSize":14,"titleColor":"black","titleAngle":270,"titleX":18,"titleY":234,"titleAlign":"center","titleBaseline":"alphabetic"}}
}}
],
"resolve":{"axis":{"x":"independent","y":"independent"}}
}
